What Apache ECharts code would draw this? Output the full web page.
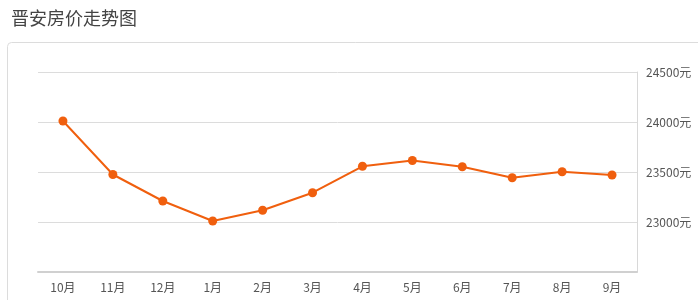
<!DOCTYPE html>
<html><head><meta charset="utf-8">
<script src="https://cdn.jsdelivr.net/npm/echarts@6/dist/echarts.min.js"></script>
<style>html,body{margin:0;padding:0;background:#fff;}#c{width:698px;height:300px;}</style>
</head><body><div id="c"></div>
<script>
const categories = ['10月','11月','12月','1月','2月','3月','4月','5月','6月','7月','8月','9月'];
const prices = [24010, 23475, 23210, 23010, 23117, 23293, 23557, 23615, 23553, 23443, 23503, 23470];
const yMin = 22500, yMax = 24500, yStep = 500;
const titleText = '晋安房价走势图';
const unit = '元';

const chart = echarts.init(document.getElementById('c'), null, {renderer:'canvas'});
chart.setOption({
  animation: false,
  textStyle: {fontFamily: '"Noto Sans CJK SC", sans-serif'},
  title: {text: titleText, left: 6, top: 4, textStyle: {fontSize: 18, fontWeight: 'normal', color: '#444', fontFamily: '"Noto Sans CJK SC", sans-serif'}},
  graphic: [{type:'rect', shape:{x:7.5, y:42.5, width:720, height:300, r:4}, style:{fill:'none', stroke:'#dcdcdc', lineWidth:1}, silent:true}],
  grid: {left: 38, right: 61, top: 72, bottom: 28, containLabel: false},
  xAxis: {
    type: 'category', data: categories, boundaryGap: true,
    axisLine: {lineStyle: {color: '#d0d0d0', width: 2}},
    axisTick: {alignWithLabel: true, length: 5, lineStyle: {color: '#d0d0d0'}},
    axisLabel: {color: '#555', fontSize: 12, margin: 9}
  },
  yAxis: {
    type: 'value', position: 'right', min: yMin, max: yMax, interval: yStep,
    axisLine: {show: true, lineStyle: {color: '#d8d8d8'}},
    axisTick: {show: false},
    axisLabel: {color: '#555', fontSize: 12, margin: 9, formatter: v => v === yMin ? '' : v + unit},
    splitLine: {lineStyle: {color: '#dcdcdc'}}
  },
  series: [{
    type: 'line', data: prices, symbol: 'circle', symbolSize: 9,
    lineStyle: {color: '#f05f0e', width: 2}, itemStyle: {color: '#f05f0e'}
  }]
});
</script></body></html>
